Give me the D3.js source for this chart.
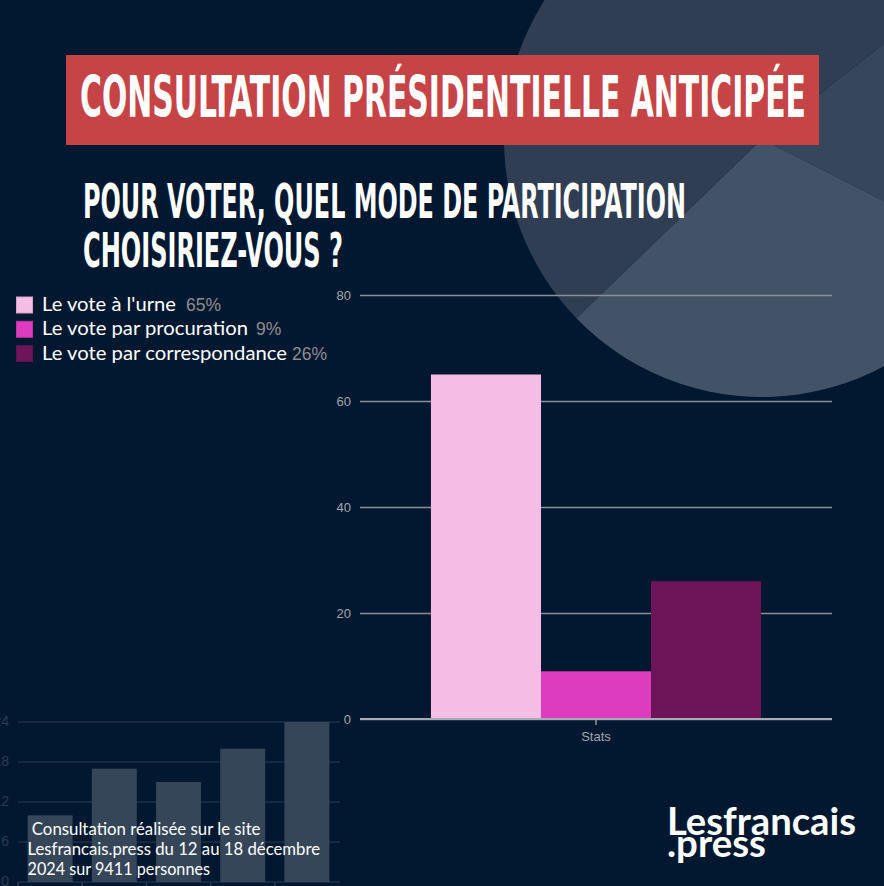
<!DOCTYPE html>
<html>
<head>
<meta charset="utf-8">
<script src="https://cdn.jsdelivr.net/npm/d3@7"></script>
<style>
  html, body { margin: 0; padding: 0; background: #011830; }
  svg { display: block; }
</style>
</head>
<body>
<div id="chart"></div>
<script>
// ---------- data ----------
const categories = ["Stats"];
const seriesNames = ["Le vote à l'urne", "Le vote par procuration", "Le vote par correspondance"];
const seriesValues = [65, 9, 26];
const yTicks = [0, 20, 40, 60, 80];

const titleText = "CONSULTATION PRÉSIDENTIELLE ANTICIPÉE";
const subtitleLines = ["POUR VOTER, QUEL MODE DE PARTICIPATION", "CHOISIRIEZ-VOUS ?"];
const footnoteLines = [" Consultation réalisée sur le site", "Lesfrancais.press du 12 au 18 décembre", "2024 sur 9411 personnes"];
const logoLines = ["Lesfrancais", ".press"];

// decorative background graphics
const decoPieValues = [65, 109, 186];
const decoCategories = ["a", "b", "c", "d", "e"];
const decoBarValues = [10, 17, 15, 20, 24];
const decoTicks = [0, 6, 12, 18, 24];

// ---------- styles ----------
const W = 884, H = 886;
const seriesColors = ["#f5bde6", "#dc3cbd", "#6d1558"];
const pieColors = ["#37475b", "#425367", "#2f3e52"];
const condensed = "'Liberation Sans Narrow','DejaVu Sans Condensed','DejaVu Sans',sans-serif";
const bodyFont = "Lato,'Open Sans',sans-serif";
const axisFont = "'Liberation Sans',Arial,sans-serif";

const svg = d3.select("#chart").append("svg")
  .attr("width", W).attr("height", H)
  .attr("viewBox", `0 0 ${W} ${H}`);

svg.append("rect").attr("width", W).attr("height", H).attr("fill", "#011830");

// ---------- decorative pie ----------
const pie = d3.pie().sort(null)
  .startAngle(52 * Math.PI / 180)
  .endAngle(52 * Math.PI / 180 + 2 * Math.PI);
const arc = d3.arc().innerRadius(0).outerRadius(258);
svg.append("g").attr("transform", "translate(762,139)")
  .selectAll("path").data(pie(decoPieValues)).join("path")
  .attr("d", arc)
  .attr("fill", (d, i) => pieColors[i]);

// ---------- decorative bar chart (bottom-left) ----------
const xd = d3.scaleBand().domain(decoCategories).range([18, 339]).paddingInner(0.3).paddingOuter(0.15);
const yd = d3.scaleLinear().domain([0, 24]).range([882, 722]);
const deco = svg.append("g");
deco.selectAll("line.g").data(decoTicks).join("line")
  .attr("x1", 18).attr("x2", 340)
  .attr("y1", d => yd(d)).attr("y2", d => yd(d))
  .attr("stroke", "#1d3046").attr("stroke-width", 1.5);
deco.selectAll("text").data(decoTicks).join("text")
  .attr("x", 9).attr("y", d => yd(d)).attr("dy", "0.3em")
  .attr("text-anchor", "end")
  .attr("font-family", axisFont).attr("font-size", 14)
  .attr("fill", "#2b3b50")
  .text(d => d);
deco.selectAll("rect").data(decoBarValues).join("rect")
  .attr("x", (d, i) => xd(decoCategories[i]))
  .attr("width", xd.bandwidth())
  .attr("y", d => yd(d))
  .attr("height", d => yd(0) - yd(d))
  .attr("fill", "#364659");
deco.selectAll("line.t").data(decoCategories).join("line")
  .attr("x1", (d, i) => xd.range()[0] + i * xd.step())
  .attr("x2", (d, i) => xd.range()[0] + i * xd.step())
  .attr("y1", yd(0)).attr("y2", H)
  .attr("stroke", "#2a3b50").attr("stroke-width", 1.5);

// ---------- title ----------
svg.append("rect").attr("x", 66).attr("y", 55).attr("width", 753).attr("height", 90)
  .attr("fill", "#c64346");
svg.append("text")
  .attr("x", 80).attr("y", 117)
  .attr("font-family", condensed).attr("font-weight", "bold").attr("font-size", 57)
  .attr("textLength", 726).attr("lengthAdjust", "spacingAndGlyphs")
  .attr("fill", "#ffffff")
  .text(titleText);

const subW = [603, 260];
svg.selectAll("text.sub").data(subtitleLines).join("text")
  .attr("class", "sub")
  .attr("x", 83).attr("y", (d, i) => 218 + i * 49)
  .attr("font-family", condensed).attr("font-weight", "bold").attr("font-size", 48)
  .attr("textLength", (d, i) => subW[i]).attr("lengthAdjust", "spacingAndGlyphs")
  .attr("fill", "#ffffff")
  .text(d => d);

// ---------- legend ----------
const legendTextW = [134, 206, 245];
const legendPctX = [186, 256, 292];
const leg = svg.append("g");
seriesNames.forEach((name, i) => {
  const yb = 311 + i * 24.3;
  leg.append("rect").attr("x", 16.5).attr("y", yb - 14).attr("width", 16).attr("height", 16)
    .attr("fill", seriesColors[i]).attr("stroke", d3.color(seriesColors[i]).darker(0.4)).attr("stroke-width", 1);
  leg.append("text").attr("x", 42).attr("y", yb)
    .attr("font-family", bodyFont).attr("font-size", 18.5)
    .attr("textLength", legendTextW[i]).attr("lengthAdjust", "spacingAndGlyphs")
    .attr("fill", "#ffffff").text(name);
  leg.append("text").attr("x", legendPctX[i]).attr("y", yb)
    .attr("font-family", axisFont).attr("font-size", 17.5)
    .attr("fill", "#8e8f91").text(seriesValues[i] + "%");
});

// ---------- main chart ----------
const x0 = d3.scaleBand().domain(categories).range([360, 832]).paddingInner(0).paddingOuter(0.215);
const x1 = d3.scaleBand().domain(seriesNames).range([0, x0.bandwidth()]).padding(0);
const y = d3.scaleLinear().domain([0, 80]).range([719, 295]);

const yAxis = svg.append("g").attr("transform", "translate(360,0)")
  .call(d3.axisLeft(y).tickValues(yTicks).tickSize(-472).tickPadding(9));
yAxis.select(".domain").remove();
yAxis.selectAll(".tick line").attr("stroke", "#8a8f96").attr("stroke-width", 1.3);
yAxis.selectAll(".tick text").attr("font-family", axisFont).attr("font-size", 13).attr("fill", "#a3a6aa");

const bars = svg.append("g");
categories.forEach(cat => {
  bars.selectAll("rect").data(seriesValues).join("rect")
    .attr("x", (d, i) => x0(cat) + x1(seriesNames[i]))
    .attr("width", x1.bandwidth())
    .attr("y", d => y(d))
    .attr("height", d => y(0) - y(d))
    .attr("fill", (d, i) => seriesColors[i]);
});

svg.append("line").attr("x1", 360).attr("x2", 832).attr("y1", y(0)).attr("y2", y(0))
  .attr("stroke", "#a7acb2").attr("stroke-width", 2);

const xAxis = svg.append("g").attr("transform", `translate(0,${y(0)})`)
  .call(d3.axisBottom(x0).tickSize(6).tickPadding(7));
xAxis.select(".domain").remove();
xAxis.selectAll(".tick line").attr("stroke", "#a7acb2").attr("stroke-width", 1.3);
xAxis.selectAll(".tick text").attr("font-family", axisFont).attr("font-size", 13).attr("fill", "#a3a6aa");

// ---------- footnote ----------
const footW = [233, 292.5, 182.5];
svg.selectAll("text.foot").data(footnoteLines).join("text")
  .attr("class", "foot")
  .attr("x", 27.5).attr("y", (d, i) => 835 + i * 20)
  .style("white-space", "pre")
  .attr("font-family", bodyFont).attr("font-size", 16.5)
  .attr("textLength", (d, i) => footW[i]).attr("lengthAdjust", "spacingAndGlyphs")
  .attr("fill", "#ffffff")
  .text(d => d);

// ---------- logo ----------
const logoW = [189, 99];
svg.selectAll("text.logo").data(logoLines).join("text")
  .attr("class", "logo")
  .attr("x", 667).attr("y", (d, i) => 835 + i * 22)
  .attr("font-family", bodyFont).attr("font-weight", 700).attr("font-size", 38)
  .attr("textLength", (d, i) => logoW[i]).attr("lengthAdjust", "spacingAndGlyphs")
  .attr("fill", "#ffffff")
  .text(d => d);
</script>
</body>
</html>
